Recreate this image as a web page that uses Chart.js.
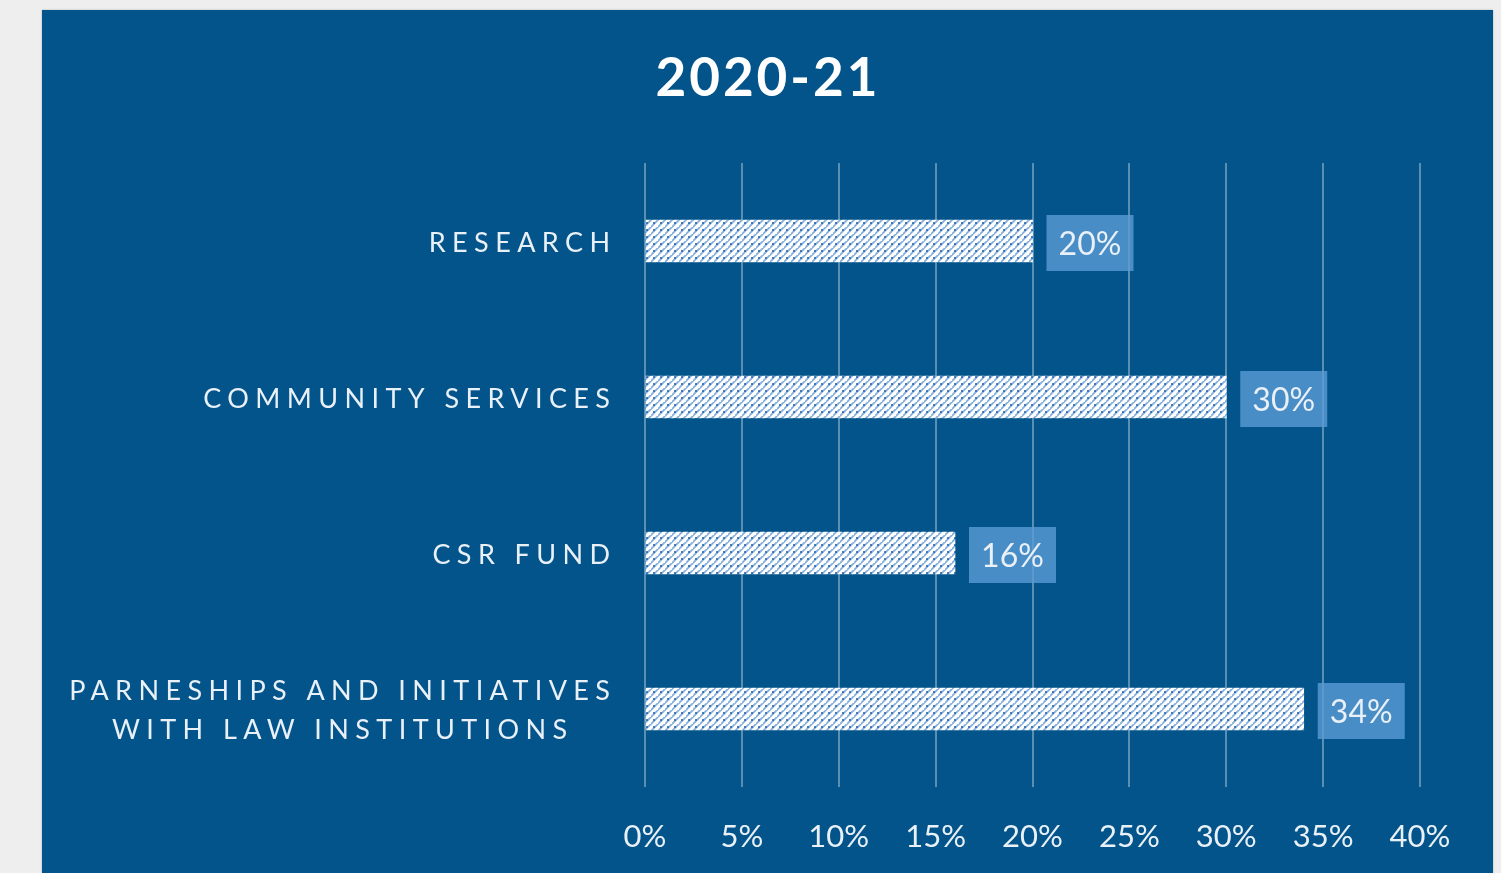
<!DOCTYPE html>
<html>
<head>
<meta charset="utf-8">
<script src="https://cdn.jsdelivr.net/npm/chart.js"></script>
<style>
  html, body { margin: 0; padding: 0; background: #eeeeee; }
  body { width: 1501px; height: 873px; overflow: hidden; position: relative; }
  #panel {
    position: absolute; left: 42px; top: 10px; width: 1451px; height: 863px;
    background: #02548a; box-shadow: 0 0 2px rgba(0,0,0,0.25);
  }
  #panel canvas { display: block; }
</style>
</head>
<body>
<div id="panel"><canvas id="grafico" width="1451" height="863"></canvas></div>
<script>
// dados do gráfico
const categorias = [
  ['RESEARCH'],
  ['COMMUNITY SERVICES'],
  ['CSR FUND'],
  ['PARNESHIPS AND INITIATIVES', 'WITH LAW INSTITUTIONS']
];
const percentuais = [20, 30, 16, 34];
const eixoMin = 0;
const eixoMax = 40;
const eixoPasso = 5;
const titulo = '2020-21';

const TEXTO = '#e9f0f7';

// padrão hachurado das barras
function criarHachura() {
  const n = 7;
  const c = document.createElement('canvas');
  c.width = n; c.height = n;
  const g = c.getContext('2d');
  g.fillStyle = '#ffffff';
  g.fillRect(0, 0, n, n);
  g.strokeStyle = 'rgba(80,140,205,0.7)';
  g.lineWidth = 1.8;
  g.beginPath();
  g.moveTo(-1, n + 1); g.lineTo(n + 1, -1);
  g.moveTo(-n - 1, n + 1); g.lineTo(1, -1);
  g.moveTo(n - 1, 2 * n + 1); g.lineTo(2 * n + 1, n - 1);
  g.stroke();
  g.fillStyle = 'rgba(40,100,170,0.8)';
  g.fillRect(Math.floor(n / 2) - 1, Math.floor(n / 2) - 1, 2, 2);
  return g.createPattern(c, 'repeat');
}

// título com espaçamento entre letras
const tituloEspacado = {
  id: 'tituloEspacado',
  afterDraw(chart) {
    const ctx = chart.ctx;
    ctx.save();
    ctx.font = 'bold 53px Lato';
    ctx.letterSpacing = '3px';
    ctx.fillStyle = '#ffffff';
    ctx.textAlign = 'center';
    ctx.textBaseline = 'alphabetic';
    ctx.fillText(titulo, chart.width / 2 + 0.5, 86);
    ctx.restore();
  }
};

// rótulos das categorias (espaçamento entre letras)
const rotulosCategorias = {
  id: 'rotulosCategorias',
  afterDraw(chart) {
    const ctx = chart.ctx;
    const meta = chart.getDatasetMeta(0);
    const direita = 568;
    const esp = 6.4;
    ctx.save();
    ctx.font = '27px Lato';
    ctx.letterSpacing = esp + 'px';
    ctx.fillStyle = TEXTO;
    ctx.textAlign = 'center';
    ctx.textBaseline = 'middle';
    categorias.forEach((linhas, i) => {
      const bar = meta.data[i];
      const larguras = linhas.map(l => ctx.measureText(l).width - esp);
      const maxW = Math.max(...larguras);
      const cx = direita - maxW / 2 + esp / 2;
      const alturaLinha = 39;
      const y0 = bar.y - (linhas.length - 1) * alturaLinha / 2 + 2;
      linhas.forEach((l, k) => ctx.fillText(l, cx, y0 + k * alturaLinha));
    });
    ctx.restore();
  }
};

// caixas com os valores
const rotulosValores = {
  id: 'rotulosValores',
  afterDatasetsDraw(chart) {
    const ctx = chart.ctx;
    const meta = chart.getDatasetMeta(0);
    ctx.save();
    meta.data.forEach((bar, i) => {
      const x = bar.x + 14;
      const w = 87, h = 56;
      ctx.fillStyle = 'rgba(91,155,213,0.8)';
      ctx.fillRect(x, bar.y - h / 2 + 2, w, h);
      ctx.fillStyle = TEXTO;
      ctx.font = '32px Lato';
      ctx.textAlign = 'center';
      ctx.textBaseline = 'middle';
      ctx.fillText(percentuais[i] + '%', x + w / 2, bar.y + 4);
    });
    ctx.restore();
  }
};

document.addEventListener('DOMContentLoaded', () => {
  const ctx = document.getElementById('grafico');
  new Chart(ctx, {
    type: 'bar',
    data: {
      labels: categorias,
      datasets: [{
        data: percentuais,
        backgroundColor: criarHachura(),
        borderWidth: 0,
        barThickness: 42
      }]
    },
    options: {
      indexAxis: 'y',
      responsive: false,
      animation: false,
      layout: { padding: { left: 0, right: 73, top: 153, bottom: 0 } },
      scales: {
        y: {
          display: true,
          border: { display: false },
          grid: { display: false },
          ticks: { display: false },
          afterFit(scale) { scale.width = 603; }
        },
        x: {
          min: eixoMin,
          max: eixoMax,
          border: { display: false },
          grid: { color: 'rgba(255,255,255,0.35)', lineWidth: 2, drawTicks: false },
          ticks: {
            stepSize: eixoPasso,
            padding: 31,
            maxRotation: 0,
            color: TEXTO,
            font: { family: 'Lato', size: 31 },
            callback: v => v + '%'
          },
          afterFit(scale) { scale.height = 86; }
        }
      },
      plugins: {
        legend: { display: false },
        tooltip: { enabled: false },
        title: { display: false }
      }
    },
    plugins: [tituloEspacado, rotulosCategorias, rotulosValores]
  });
});
</script>
</body>
</html>
